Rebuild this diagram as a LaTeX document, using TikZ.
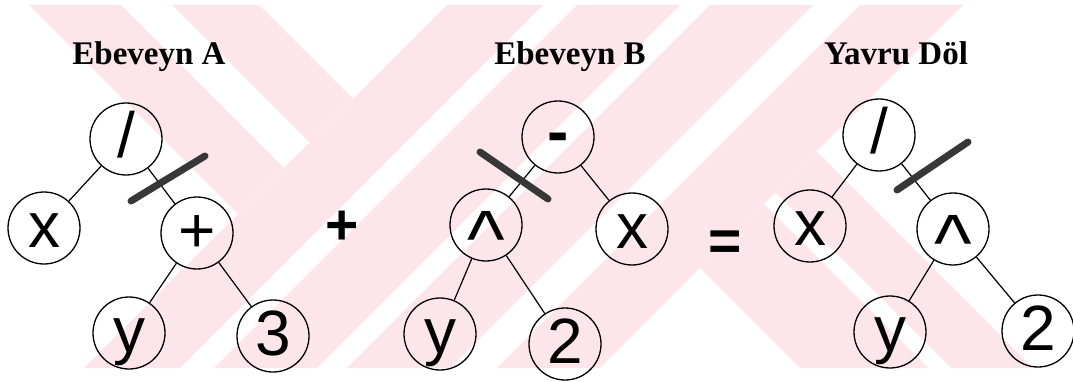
\documentclass[tikz,border=0pt]{standalone}
\usepackage{fontspec}
\setmainfont{Liberation Serif}
\newfontfamily\treefont{Liberation Sans}
\usepackage{graphicx}
\usepackage{tikz}
\definecolor{wmpink}{RGB}{252,230,234}
\definecolor{cutgray}{RGB}{55,55,55}

\begin{document}
\begin{tikzpicture}[x=1pt, y=-1pt,
    tnode/.style={circle, draw=black, line width=1.3pt, minimum size=72pt, inner sep=0pt,
        font=\treefont\fontsize{64}{64}\selectfont, text height=38pt, text depth=0pt},
    title/.style={font=\bfseries\fontsize{33}{33}\selectfont, anchor=base},
    oper/.style={font=\treefont\bfseries\fontsize{57}{57}\selectfont},
    edge/.style={line width=1.2pt},
    cutmark/.style={line width=7pt, draw=cutgray, line cap=round}
]
\useasboundingbox (0,0) rectangle (1073,382);

% Watermark
\fill[wmpink] (29,5) -- (121,5) -- (284,168) -- (238,214) -- cycle;
\fill[wmpink] (172,5) -- (259,5) -- (353,99) -- (309.5,142.5) -- cycle;
\fill[wmpink] (447,5) -- (543,5) -- (180,368) -- (84,368) -- cycle;
\fill[wmpink] (577,5) -- (680,5) -- (317,368) -- (214,368) -- cycle;
\fill[wmpink] (710,5) -- (813,5) -- (450,368) -- (347,368) -- cycle;
\fill[wmpink] (860,5) -- (963,5) -- (600,368) -- (497,368) -- cycle;
\fill[wmpink] (700,268) -- (764,204) -- (928,368) -- (800,368) -- cycle;
\fill[wmpink] (775.5,192.5) -- (816.5,151.5) -- (1033,368) -- (951,368) -- cycle;

% Ebeveyn A
\node[title] (titA) at (149,65) {Ebeveyn A};
\node[tnode] (a1) at (126,139) {/};
\node[tnode] (a2) at (44,228) {x};
\node[tnode] (a3) at (197,233) {+};
\node[tnode] (a4) at (129,333) {y};
\node[tnode] (a5) at (273,336) {3};
\draw[edge] (a1) -- (a2);
\draw[edge] (a1) -- (a3);
\draw[edge] (a3) -- (a4);
\draw[edge] (a3) -- (a5);
\draw[cutmark] (131,201) -- (205,156);

\node[oper] (plus) at (342,228) {+};

% Ebeveyn B
\node[title] (titB) at (570,65) {Ebeveyn B};
\node[tnode] (b1) at (558,137) {\raisebox{2pt}{\bfseries -}};
\node[tnode] (b2) at (486,225) {\raisebox{-22pt}{\scalebox{1.25}{\char94}}};
\node[tnode] (b3) at (632,229) {x};
\node[tnode] (b4) at (440,334) {y};
\node[tnode] (b5) at (565,344) {2};
\draw[edge] (b1) -- (b2);
\draw[edge] (b1) -- (b3);
\draw[edge] (b2) -- (b4);
\draw[edge] (b2) -- (b5);
\draw[cutmark] (480,152) -- (548,199);

\node[oper] (equals) at (725,246) {=};

% Yavru Dol
\node[title] (titC) at (896,65) {Yavru Döl};
\node[tnode] (c1) at (879,135) {/};
\node[tnode] (c2) at (810,226) {x};
\node[tnode] (c3) at (953,229) {\raisebox{-22pt}{\scalebox{1.25}{\char94}}};
\node[tnode] (c4) at (890,332) {y};
\node[tnode] (c5) at (1038,331) {2};
\draw[edge] (c1) -- (c2);
\draw[edge] (c1) -- (c3);
\draw[edge] (c3) -- (c4);
\draw[edge] (c3) -- (c5);
\draw[cutmark] (897,190) -- (968,142);

\end{tikzpicture}
\end{document}
